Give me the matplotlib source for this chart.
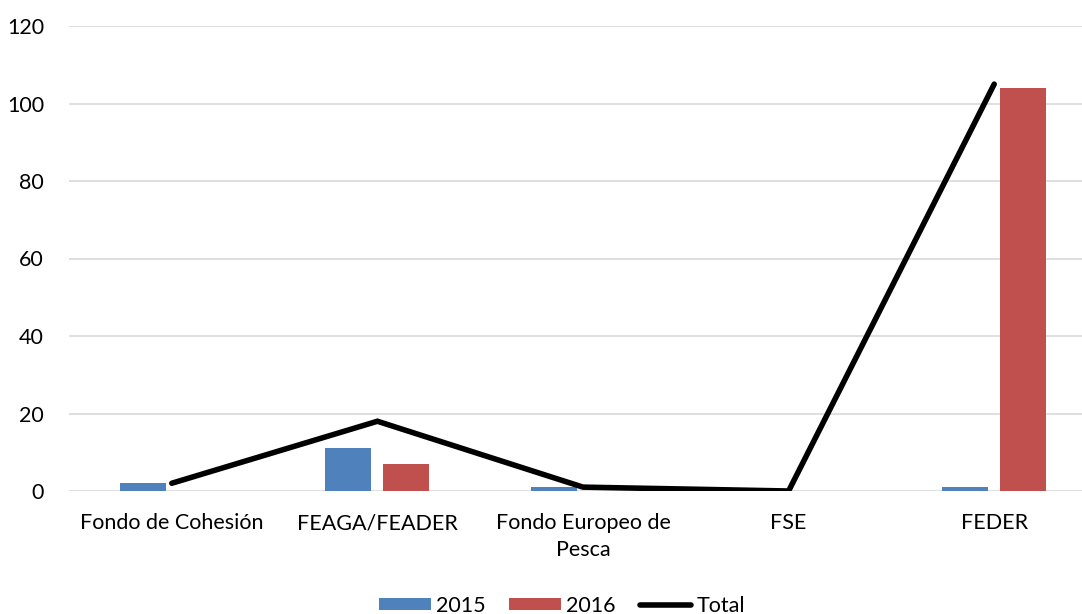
import numpy as np
import matplotlib.pyplot as plt

# data
categories = ["Fondo de Cohesión", "FEAGA/FEADER", "Fondo Europeo de\nPesca", "FSE", "FEDER"]
v2015 = [2, 11, 1, 0, 1]
v2016 = [0, 7, 0, 0, 104]
total = [2, 18, 1, 0, 105]
yticks = [0, 20, 40, 60, 80, 100, 120]

plt.rcParams['font.family'] = ['Lato', 'DejaVu Sans']

fig = plt.figure(figsize=(10.82, 6.14), dpi=100)
ax = fig.add_axes([69 / 1082, 123 / 614, 1028 / 1082, 465 / 614])

x = np.arange(len(categories))
w = 0.224
off = 0.141
b1 = ax.bar(x - off, v2015, w, color="#4F81BD", label="2015", zorder=2)
b2 = ax.bar(x + off, v2016, w, color="#C0504D", label="2016", zorder=2)
l1, = ax.plot(x, total, "-", color="black", lw=4, label="Total", zorder=3,
              solid_capstyle="round", solid_joinstyle="miter")

ax.set_xlim(-0.5, len(categories) - 0.5)
ax.set_ylim(0, 120)
ax.set_yticks(yticks)
ax.set_xticks(x)
ax.set_xticklabels(categories, linespacing=1.45)
ax.yaxis.grid(True, color="#D9D9D9", lw=1.2, zorder=0)
ax.set_axisbelow(True)
for s in ax.spines.values():
    s.set_visible(False)
ax.tick_params(axis="both", length=0, labelsize=15.5, colors="black")
ax.tick_params(axis="y", pad=18)
ax.tick_params(axis="x", pad=16)

fig.legend([b1, b2, l1], ["2015", "2016", "Total"], loc="lower center",
           bbox_to_anchor=(562 / 1082, -0.034), ncol=3,
           frameon=False, fontsize=15.5, handlelength=2.4, handleheight=0.5,
           handletextpad=0.25, columnspacing=1.1)

fig.savefig("out.png", dpi=100)
